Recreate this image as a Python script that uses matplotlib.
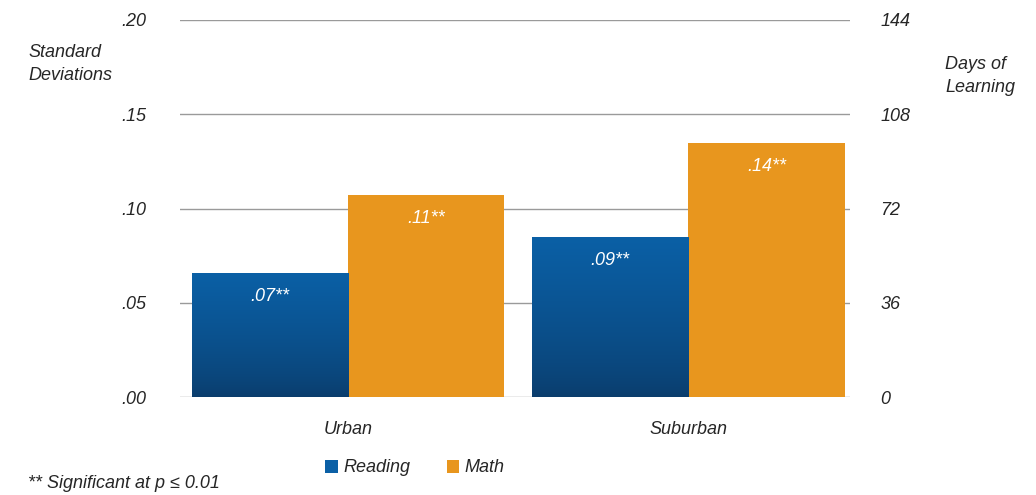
import matplotlib
matplotlib.use("Agg")
import matplotlib.pyplot as plt
import numpy as np
from matplotlib import font_manager

names = {f.name for f in font_manager.fontManager.ttflist}
FAM = ["Liberation Sans Narrow"] if "Liberation Sans Narrow" in names else ["Liberation Sans"]
plt.rcParams['font.family'] = FAM + ["DejaVu Sans"]
plt.rcParams['font.style'] = 'italic'

categories = ["Urban", "Suburban"]
reading = [0.066, 0.085]
math_vals = [0.107, 0.135]
reading_labels = [".07**", ".09**"]
math_labels = [".11**", ".14**"]
left_ticks = [0.00, 0.05, 0.10, 0.15, 0.20]
left_ticklabels = [".00", ".05", ".10", ".15", ".20"]
right_ticklabels = ["0", "36", "72", "108", "144"]

BLUE_TOP = np.array([0x0b, 0x60, 0xa6]) / 255
BLUE_BOT = np.array([0x0a, 0x3c, 0x6b]) / 255
ORANGE = "#e8961e"
GRID = "#9a9a9a"
TXT = "#262626"

fig = plt.figure(figsize=(10.36, 4.95), dpi=100)
ax = fig.add_axes([180/1036, 1-397/495, 670/1036, 377/495])

x = np.arange(len(categories))
w = 0.46

for t in left_ticks:
    ax.axhline(t, color=GRID, lw=1.0, zorder=0)

grad = np.linspace(0, 1, 256) ** 0.7
img = BLUE_BOT[None, None, :] * (1 - grad[:, None, None]) + BLUE_TOP[None, None, :] * grad[:, None, None]

bars_r = ax.bar(x - w/2, reading, width=w, color=BLUE_TOP, zorder=2, label="Reading")
for b in bars_r:
    x0, bw, bh = b.get_x(), b.get_width(), b.get_height()
    im = ax.imshow(img, extent=[x0, x0 + bw, 0, bh], origin='lower', aspect='auto', zorder=2.5)
    im.set_clip_path(b)
bars_m = ax.bar(x + w/2, math_vals, width=w, color=ORANGE, zorder=2, label="Math")
ax.set_xlim(-0.494, 1.476)
ax.set_ylim(0, 0.20)

for b, lab in zip(bars_r, reading_labels):
    ax.annotate(lab, (b.get_x() + b.get_width()/2, b.get_height()), xytext=(0, -17),
                textcoords='offset points', ha='center', va='center', color='white', fontsize=13, zorder=4)
for b, lab in zip(bars_m, math_labels):
    ax.annotate(lab, (b.get_x() + b.get_width()/2, b.get_height()), xytext=(0, -17),
                textcoords='offset points', ha='center', va='center', color='white', fontsize=13, zorder=4)

for s in ax.spines.values():
    s.set_visible(False)
ax.set_yticks(left_ticks)
ax.set_yticklabels(left_ticklabels)
ax.tick_params(axis='y', length=0, pad=24, labelsize=13, labelcolor=TXT)
ax.set_xticks(x)
ax.set_xticklabels(categories)
ax.tick_params(axis='x', length=0, pad=17, labelsize=13, labelcolor=TXT)

ax2 = ax.twinx()
ax2.set_ylim(ax.get_ylim())
ax2.set_yticks(left_ticks)
ax2.set_yticklabels(right_ticklabels)
ax2.tick_params(axis='y', length=0, pad=22, labelsize=13, labelcolor=TXT)
for s in ax2.spines.values():
    s.set_visible(False)

fig.text(28/1036, 1-64/495, "Standard\nDeviations", ha='left', va='center', fontsize=13, color=TXT, linespacing=1.5)
fig.text(945/1036, 1-76/495, "Days of\nLearning", ha='left', va='center', fontsize=13, color=TXT, linespacing=1.5)
fig.text(28/1036, 1-483/495, "** Significant at p \u2264 0.01", ha='left', va='center', fontsize=13, color=TXT)

leg = fig.legend(handles=[bars_r, bars_m], labels=["Reading", "Math"], loc='center',
                 bbox_to_anchor=(415/1036, 1-468/495), ncol=2, frameon=False, fontsize=13,
                 handlelength=0.7, handleheight=0.7, handletextpad=0.3, columnspacing=2.0,
                 labelcolor=TXT)

fig.savefig("out.png", dpi=100)
